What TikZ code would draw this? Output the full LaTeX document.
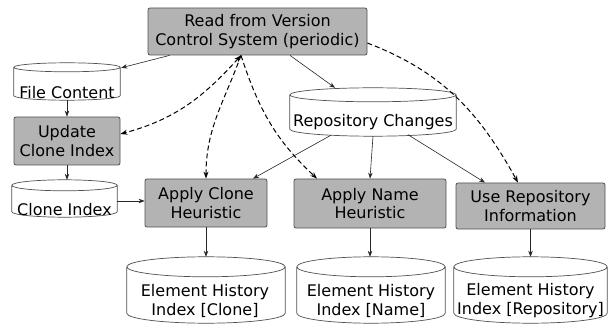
\documentclass[tikz,border=0pt]{standalone}
\usepackage{fontspec}
\setmainfont{DejaVu Sans}
\usetikzlibrary{arrows.meta,calc}
\definecolor{boxfill}{HTML}{B3B3B3}
\definecolor{boxline}{HTML}{505050}
\definecolor{cylline}{HTML}{505050}
\newcommand\lbl{\fontsize{16pt}{18.5pt}\selectfont}
\tikzset{
 proc/.style={draw=boxline, fill=boxfill, rounded corners=2pt, line width=0.8pt, align=center, inner sep=0pt, font=\lbl},
 cylbody/.style={inner sep=0pt, draw=none},
 cyltext/.style={align=center, inner sep=0pt, font=\lbl},
 cylstyle/.style={draw=cylline, fill=white, line width=0.7pt},
 flow/.style={draw=black!85, line width=0.6pt, -{Stealth[length=6pt,width=4.5pt]}},
 dflow/.style={draw=black, line width=1pt, dash pattern=on 5pt off 3pt, -{Stealth[length=7pt,width=5pt]}},
}
\newcommand\mycyl[2]{%
 \path[cylstyle] let \p1=(#1.north west), \p2=(#1.south east), \n1={(\x2-\x1)/2} in
 (\x1,\y1-#2) -- (\x1,\y2+#2) arc[start angle=180,end angle=360,x radius=\n1,y radius=#2]
 -- (\x2,\y1-#2) arc[start angle=0,end angle=180,x radius=\n1,y radius=#2] -- cycle
 (\x1,\y1-#2) arc[start angle=180,end angle=360,x radius=\n1,y radius=#2];}
\begin{document}
\begin{tikzpicture}[x=1pt,y=1pt]
\useasboundingbox (0,0) rectangle (615,324);
\node[proc, minimum width=219pt, minimum height=47pt] (read) at (257.5,292.5) {Read from Version\\Control System (periodic)};
\node[cylbody, minimum width=106pt, minimum height=37pt] (fc) at (67,242.5) {};
\mycyl{fc}{4.5pt}
\node[cyltext, anchor=base] (fct) at (67,225.7) {File Content};
\node[proc, minimum width=106pt, minimum height=48pt] (uci) at (67,183) {Update\\Clone Index};
\node[cylbody, minimum width=105pt, minimum height=37pt] (ci) at (64.5,125.5) {};
\mycyl{ci}{5.5pt}
\node[cyltext, anchor=base] (cit) at (64.5,109) {Clone Index};
\node[cylbody, minimum width=166pt, minimum height=48pt] (repo) at (373,212) {};
\mycyl{repo}{7pt}
\node[cyltext, anchor=base] (repot) at (373,197) {Repository Changes};
\node[proc, minimum width=122pt, minimum height=48pt] (ac) at (206,121) {Apply Clone\\Heuristic};
\node[proc, minimum width=152pt, minimum height=49pt] (an) at (370,120.5) {Apply Name\\Heuristic};
\node[proc, minimum width=149pt, minimum height=46pt] (ur) at (530.5,118) {Use Repository\\Information};
\node[cylbody, minimum width=158pt, minimum height=66pt] (ehic) at (206,34) {};
\mycyl{ehic}{10pt}
\node[cyltext] (ehict) at (205,23.2) {Element History\\Index [Clone]};
\node[cylbody, minimum width=148pt, minimum height=66pt] (ehin) at (371,34) {};
\mycyl{ehin}{10pt}
\node[cyltext] (ehint) at (371,23.2) {Element History\\Index [Name]};
\node[cylbody, minimum width=153pt, minimum height=66pt] (ehir) at (530.5,34) {};
\mycyl{ehir}{10pt}
\node[cyltext] (ehirt) at (530.5,23.2) {Element History\\Index [Repository]};
% solid connectors
\draw[flow] ([xshift=22pt]read.south west) -- ([xshift=1pt,yshift=-5pt]fc.north east);
\draw[flow] ([xshift=32.5pt]read.south) -- ([xshift=-38pt]repo.north);
\draw[flow] (fc.south) -- (uci.north);
\draw[flow] (uci.south) -- (uci.south |- ci.north);
\draw[flow] ([yshift=-2.5pt]ci.east) -- ([yshift=-2.5pt]ci.east -| ac.west);
\draw[flow] ([xshift=-42pt,yshift=1pt]repo.south) -- ([xshift=47pt]ac.north);
\draw[flow] (repo.south) -- (an.north);
\draw[flow] ([xshift=35pt,yshift=1.5pt]repo.south) -- ([xshift=-45.5pt]ur.north);
\draw[flow] (ac.south) -- (ehic.north);
\draw[flow] (an.south) -- (an.south |- ehin.north);
\draw[flow] (ur.south) -- (ehir.north);
% dashed connectors
\coordinate (vtop) at ([xshift=-16.5pt]read.south);
\draw[dflow, {Stealth[length=7pt,width=5pt]}-{Stealth[length=7pt,width=5pt]}] (vtop) to[out=228,in=15] ([yshift=7pt]uci.east);
\draw[dflow] (vtop) to[out=250,in=90] (ac.north);
\draw[dflow] (vtop) to[out=-72,in=137] ([xshift=-53pt]an.north);
\draw[dflow] ([yshift=-11.5pt]read.east) to[out=-21,in=119] ([xshift=-12.5pt]ur.north);
\end{tikzpicture}
\end{document}
